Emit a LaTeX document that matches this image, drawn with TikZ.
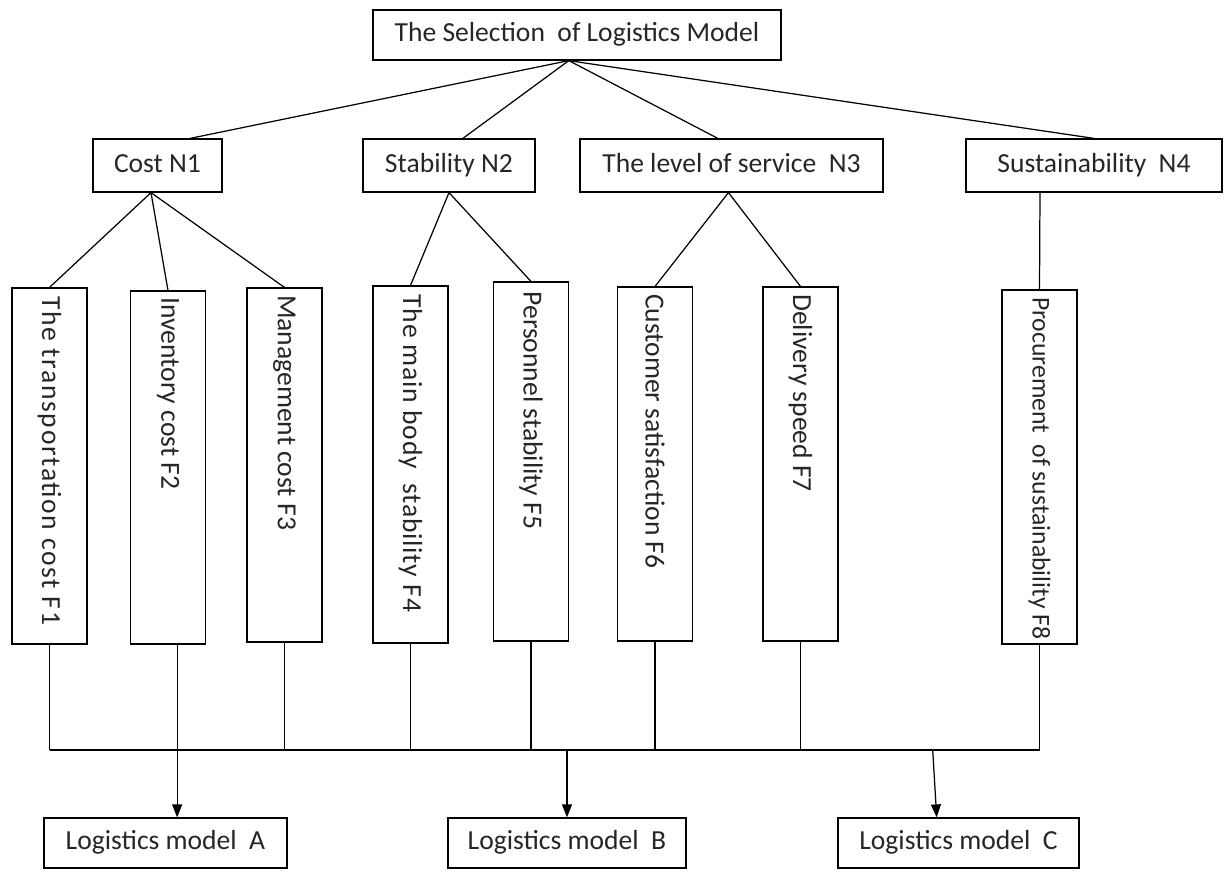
\documentclass[tikz,border=0pt]{standalone}
\usepackage{fontspec}
\setmainfont{Carlito}
\usetikzlibrary{arrows.meta,calc}

\newcommand{\leaftext}[1]{\rotatebox{-90}{\makebox[6.8cm][l]{#1}}}

\begin{document}
\begin{tikzpicture}[x=0.02cm, y=-0.02cm]

    \tikzset{
      shell/.style={
        draw,
        line width=0.7pt,
        inner sep=0pt,
        text=black!85,
        font=\fontsize{15.7}{19}\selectfont,
      },
      box/.style={shell, text height=11pt, text depth=3.5pt},
      leaf/.style={shell, minimum width=1.5cm},
      link/.style={line width=0.7pt},
      arr/.style={link, -{Triangle[length=0.26cm,width=0.2cm]}},
    }
    \useasboundingbox (0,0) rectangle (1227,870);

	% goal
	\node[box, minimum width=8.16cm, minimum height=1cm] (top) at (577,35) {The Selection\ \ of Logistics Model};

	% criteria
	\node[box, minimum width=2.58cm, minimum height=1.06cm] (n1) at (157.5,165.5) {Cost N1};
	\node[box, minimum width=3.44cm, minimum height=1.06cm] (n2) at (449,165.5) {Stability N2};
	\node[box, minimum width=6.06cm, minimum height=1.06cm] (n3) at (731.5,165.5) {The level of service\ \ N3};
	\node[box, minimum width=5.12cm, minimum height=1.06cm] (n4) at (1094,165.5) {Sustainability\ \ N4};

	% factors
	\node[leaf, minimum height=7.12cm] (f1) at (49.5,466) {\leaftext{\addfontfeature{LetterSpace=6}The transportation cost F1}};
	\node[leaf, minimum height=7.06cm] (f2) at (168,467.5) {\leaftext{Inventory cost F2}};
	\node[leaf, minimum height=7.08cm] (f3) at (284.5,465) {\leaftext{Management cost F3}};
	\node[leaf, minimum height=7.14cm] (f4) at (410.5,464.5) {\leaftext{\addfontfeature{LetterSpace=3}The main body\ \ stability F4}};
	\node[leaf, minimum height=7.18cm] (f5) at (531,461.5) {\leaftext{Personnel stability F5}};
	\node[leaf, minimum height=7.08cm] (f6) at (655,464) {\leaftext{Customer satisfaction F6}};
	\node[leaf, minimum height=7.08cm] (f7) at (800.5,464) {\leaftext{Delivery speed F7}};
	\node[leaf, minimum height=7.08cm] (f8) at (1039.5,467) {\leaftext{\fontsize{14.6}{18}\selectfont Procurement\ \ of sustainability F8}};

	% alternatives
	\node[box, minimum width=4.86cm, minimum height=1cm] (ma) at (165.5,843) {Logistics model\ \ A};
	\node[box, minimum width=4.76cm, minimum height=1cm] (mb) at (567,843) {Logistics model\ \ B};
	\node[box, minimum width=4.82cm, minimum height=1cm] (mc) at (958.5,843) {Logistics model\ \ C};

	\coordinate (apex) at ($(top.south west)!.48!(top.south east)$);
	\draw[link] (apex) -- ($(n1.north west)!.75!(n1.north east)$);
	\draw[link] (apex) -- ($(n2.north west)!.58!(n2.north east)$);
	\draw[link] (apex) -- ($(n3.north west)!.455!(n3.north east)$);
	\draw[link] (apex) -- ($(n4.north west)!.5!(n4.north east)$);

	\coordinate (n1b) at ($(n1.south west)!.45!(n1.south east)$);
	\coordinate (n2b) at ($(n2.south west)!.5!(n2.south east)$);
	\coordinate (n3b) at ($(n3.south west)!.49!(n3.south east)$);
	\coordinate (n4b) at ($(n4.south west)!.29!(n4.south east)$);
	\draw[link] (f1.north) -- (n1b) -- (f2.north);
	\draw[link] (n1b) -- (f3.north);
	\draw[link] (f4.north) -- (n2b) -- (f5.north);
	\draw[link] (f6.north) -- (n3b) -- (f7.north);
	\draw[link] (n4b) -- (f8.north);

	% bus
	\coordinate (bus) at (0,750);
	\coordinate (f2b) at ($(f2.south west)!.62!(f2.south east)$);
	\coordinate (mct) at ($(mc.north west)!.41!(mc.north east)$);
	\foreach \f in {f1,f3,f4,f5,f6,f7}
	  \draw[link] (\f.south) -- (\f.south |- bus);
	\draw[link] (f1.south |- bus) -- (f8.south |- bus) -- (f8.south);
	\draw[link] (f2b) -- (f2b |- bus);

	\draw[arr] (f2b |- bus) -- (f2b |- ma.north);
	\draw[arr] (mb.north |- bus) -- (mb.north);
	\draw[arr] ($(mct |- bus)+(-4,0)$) -- (mct);

\end{tikzpicture}
\end{document}
